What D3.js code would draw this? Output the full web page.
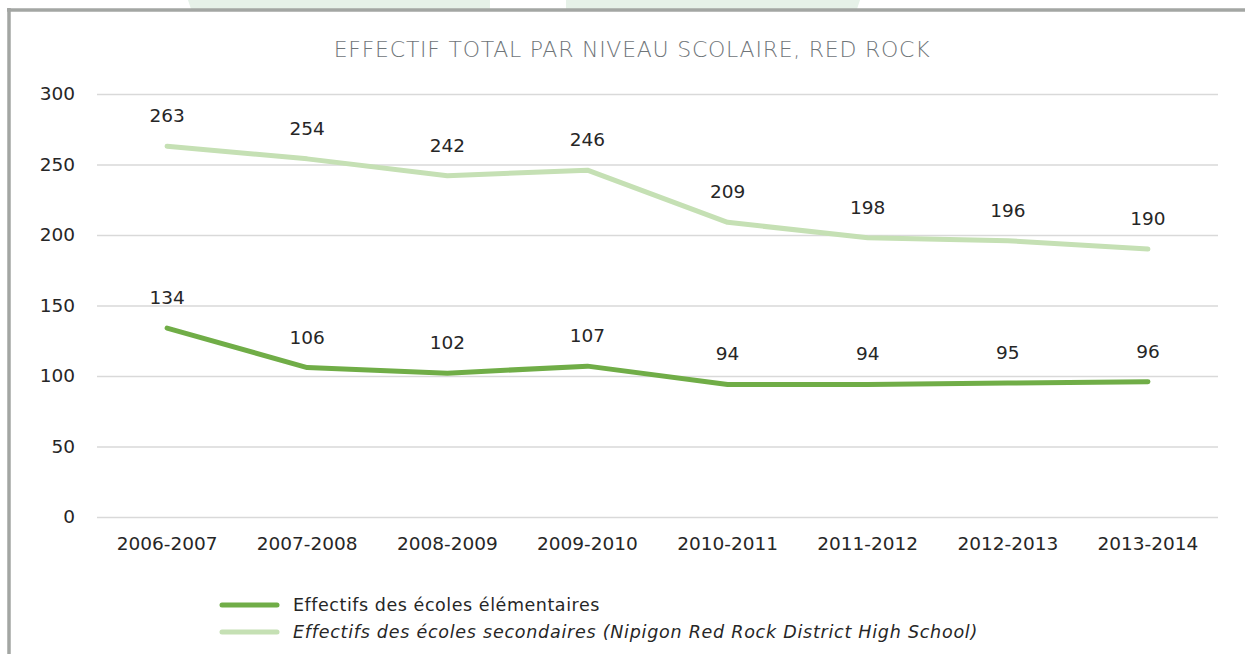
<!DOCTYPE html>
<html>
<head>
<meta charset="utf-8">
<script src="https://cdn.jsdelivr.net/npm/d3@7"></script>
<style>
  html, body { margin: 0; padding: 0; background: #ffffff; }
  svg { display: block; }
</style>
</head>
<body>
<script>
const categories = ["2006-2007", "2007-2008", "2008-2009", "2009-2010", "2010-2011", "2011-2012", "2012-2013", "2013-2014"];
const elementaryValues = [134, 106, 102, 107, 94, 94, 95, 96];
const secondaryValues = [263, 254, 242, 246, 209, 198, 196, 190];
const yTicks = [0, 50, 100, 150, 200, 250, 300];
const seriesNames = ["Effectifs des écoles élémentaires", "Effectifs des écoles secondaires (Nipigon Red Rock District High School)"];
const titleText = "EFFECTIF TOTAL PAR NIVEAU SCOLAIRE, RED ROCK";

const W = 1245, H = 654;
const FONT = "'DejaVu Sans', sans-serif";
const svg = d3.select("body").append("svg").attr("width", W).attr("height", H);

// faint watermark shapes at top
svg.append("polygon").attr("points", "188,0 490,0 490,9 191,9").attr("fill", "#e6f1e8");
svg.append("polygon").attr("points", "566,0 860,0 857,9 566,9").attr("fill", "#e6f1e8");

// frame
svg.append("line").attr("x1", 7).attr("x2", W).attr("y1", 10).attr("y2", 10)
  .attr("stroke", "#a3a6a3").attr("stroke-width", 3.5);
svg.append("line").attr("x1", 9).attr("x2", 9).attr("y1", 8).attr("y2", H)
  .attr("stroke", "#a3a6a3").attr("stroke-width", 3.5);

const x = d3.scaleBand().domain(categories).range([97, 1218]);
const y = d3.scaleLinear().domain([0, 300]).range([517, 94]);

// title
svg.append("text").attr("x", 632).attr("y", 57).attr("text-anchor", "middle")
  .attr("font-family", FONT).attr("font-weight", 200).attr("font-size", 22)
  .attr("letter-spacing", 0.75)
  .attr("fill", "#6f7579").text(titleText);

// gridlines
const yAxis = d3.axisLeft(y).tickValues(yTicks).tickSize(-(1218 - 97)).tickPadding(22);
const gy = svg.append("g").attr("transform", "translate(97,0)").call(yAxis);
gy.select(".domain").remove();
gy.selectAll(".tick line").attr("stroke", "#d9d9d9").attr("stroke-width", 1.5);
gy.selectAll(".tick text").attr("font-family", FONT).attr("font-size", 18.5).attr("fill", "#262626");

const xAxis = d3.axisBottom(x).tickSize(0).tickPadding(20);
const gx = svg.append("g").attr("transform", "translate(0,517)").call(xAxis);
gx.select(".domain").remove();
gx.selectAll(".tick text").attr("font-family", FONT).attr("font-size", 18.5).attr("fill", "#262626");

const cx = d => x(d) + x.bandwidth() / 2;
const line = d3.line().x(d => cx(d.c)).y(d => y(d.v));

const series = [
  { values: secondaryValues, color: "#c5e0b4" },
  { values: elementaryValues, color: "#70ad47" }
];
series.forEach(s => {
  const pts = categories.map((c, i) => ({ c, v: s.values[i] }));
  svg.append("path").datum(pts).attr("d", line).attr("fill", "none")
    .attr("stroke", s.color).attr("stroke-width", 5)
    .attr("stroke-linecap", "round").attr("stroke-linejoin", "round");
  svg.append("g").selectAll("text").data(pts).join("text")
    .attr("x", d => cx(d.c)).attr("y", d => y(d.v) - 24)
    .attr("text-anchor", "middle").attr("font-family", FONT).attr("font-size", 18.5)
    .attr("fill", "#262626").text(d => d.v);
});

// legend
const legend = [
  { name: seriesNames[0], color: "#70ad47", italic: false, yy: 605, ls: 0.55 },
  { name: seriesNames[1], color: "#c5e0b4", italic: true, yy: 632, ls: 0.75 }
];
legend.forEach(l => {
  svg.append("line").attr("x1", 222).attr("x2", 277).attr("y1", l.yy).attr("y2", l.yy)
    .attr("stroke", l.color).attr("stroke-width", 5).attr("stroke-linecap", "round");
  svg.append("text").attr("x", 293).attr("y", l.yy + 6)
    .attr("font-family", FONT).attr("font-size", 17.5).attr("letter-spacing", l.ls)
    .attr("font-style", l.italic ? "italic" : "normal")
    .attr("fill", "#262626").text(l.name);
});
</script>
</body>
</html>
